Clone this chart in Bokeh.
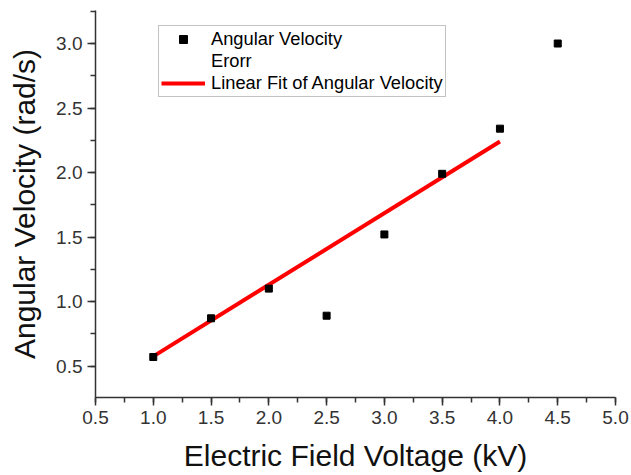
from bokeh.plotting import figure
from bokeh.models import Range1d, SingleIntervalTicker, PrintfTickFormatter, Legend, LegendItem
from bokeh.embed import file_html
from bokeh.resources import INLINE

# Data
voltage = [1.0, 1.5, 2.0, 2.5, 3.0, 3.5, 4.0, 4.5]
angular_velocity = [0.57, 0.87, 1.10, 0.89, 1.52, 1.99, 2.34, 3.00]
fit_voltage = [1.0, 4.0]
fit_velocity = [0.575, 2.24]

x_label = "Electric Field Voltage (kV)"
y_label = "Angular Velocity (rad/s)"
legend_labels = ["Angular Velocity", "Erorr", "Linear Fit of Angular Velocity"]

FONT = "Liberation Sans"

p = figure(width=631, height=475, output_backend="svg", toolbar_location=None,
           x_range=Range1d(0.5, 5.0), y_range=Range1d(0.256, 3.256),
           min_border_left=95, min_border_right=16, min_border_top=10, min_border_bottom=78)

p.background_fill_color = "white"
p.border_fill_color = "white"
p.outline_line_color = None
p.xgrid.visible = False
p.ygrid.visible = False

for ax in (p.xaxis[0], p.yaxis[0]):
    ax.ticker = SingleIntervalTicker(interval=0.5, num_minor_ticks=2)
    ax.formatter = PrintfTickFormatter(format="%.1f")
    ax.axis_line_color = "#333333"
    ax.axis_line_width = 1.5
    ax.major_tick_line_color = "#333333"
    ax.minor_tick_line_color = "#333333"
    ax.major_tick_line_width = 1.5
    ax.minor_tick_line_width = 1.5
    ax.major_tick_in = 0
    ax.major_tick_out = 8
    ax.minor_tick_in = 0
    ax.minor_tick_out = 5
    ax.major_label_text_font = FONT
    ax.major_label_text_font_size = "19px"
    ax.major_label_text_color = "#333333"
    ax.major_label_standoff = 5
    ax.axis_label_text_font = FONT
    ax.axis_label_text_font_size = "30px"
    ax.axis_label_text_font_style = "normal"
    ax.axis_label_text_color = "#111111"

p.xaxis[0].axis_label_standoff = 12
p.yaxis[0].axis_label_standoff = 12
p.xaxis.axis_label = x_label
p.yaxis.axis_label = y_label

err = p.line(voltage, angular_velocity, line_alpha=0)
fit = p.line(fit_voltage, fit_velocity, line_color="#ff0000", line_width=4)
pts = p.scatter(voltage, angular_velocity, marker="square", size=7,
                fill_color="black", line_color="black")

legend = Legend(items=[
    LegendItem(label=legend_labels[0], renderers=[pts]),
    LegendItem(label=legend_labels[1], renderers=[err]),
    LegendItem(label=legend_labels[2], renderers=[fit]),
], location=(63, 300))
legend.label_text_font = FONT
legend.label_text_font_size = "18.3px"
legend.label_text_color = "black"
legend.glyph_width = 44
legend.glyph_height = 20
legend.label_height = 20
legend.label_standoff = 6
legend.spacing = 0
legend.padding = 2
legend.margin = 0
legend.border_line_color = "#888888"
legend.border_line_width = 1
legend.background_fill_color = "white"
legend.background_fill_alpha = 1.0
p.add_layout(legend, "center")

open("out.html", "w").write(file_html(p, INLINE))
